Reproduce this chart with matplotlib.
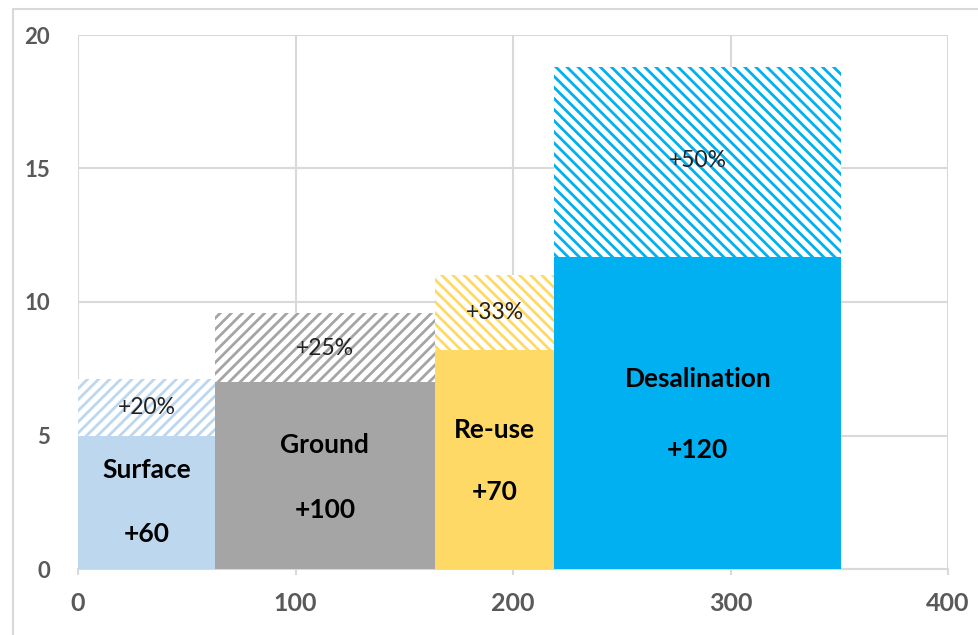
import numpy as np
import matplotlib
matplotlib.use("Agg")
import matplotlib.pyplot as plt
from matplotlib.patches import Rectangle

# data
sources = ["Surface", "Ground", "Re-use", "Desalination"]
edges = [0, 63, 164, 219, 351]
base = [5.0, 7.0, 8.2, 11.7]
top = [7.1, 9.6, 11.0, 18.8]
volumes = ["+60", "+100", "+70", "+120"]
increases = ["+20%", "+25%", "+33%", "+50%"]
colors = ["#bdd7ee", "#a5a5a5", "#ffd966", "#00b0f0"]
hatches = ["///", "///", "\\\\\\", "\\\\\\"]

# label heights (data units)
name_y = [3.7, 4.65, 5.2, 7.1]
vol_y = [1.3, 2.2, 2.9, 4.45]
pct_y = [6.05, 8.25, 9.6, 15.3]

plt.rcParams["font.family"] = ["Lato", "DejaVu Sans"]
plt.rcParams["hatch.linewidth"] = 2.0

fig = plt.figure(figsize=(9.79, 6.35), dpi=100)
ax = fig.add_axes([78 / 979, 66 / 635, 870 / 979, 534 / 635])

lefts = np.array(edges[:-1])
widths = np.diff(edges)
base = np.array(base)
top = np.array(top)

ax.bar(lefts, base, width=widths, align="edge", color=colors, linewidth=0, zorder=3)
for i in range(len(sources)):
    ax.bar(lefts[i], top[i] - base[i], width=widths[i], bottom=base[i], align="edge",
           color="white", edgecolor=colors[i], hatch=hatches[i], linewidth=0, zorder=3)
    cx = lefts[i] + widths[i] / 2
    ax.text(cx, name_y[i], sources[i], ha="center", va="center", fontsize=19,
            fontweight="bold", color="black", zorder=4)
    ax.text(cx, vol_y[i], volumes[i], ha="center", va="center", fontsize=19,
            fontweight="bold", color="black", zorder=4)
    ax.text(cx, pct_y[i], increases[i], ha="center", va="center", fontsize=16.5,
            color="#222222", zorder=4)

ax.set_xlim(0, 400)
ax.set_ylim(0, 20)
ax.set_xticks([0, 100, 200, 300, 400])
ax.set_yticks([0, 5, 10, 15, 20])
ax.grid(True, color="#d9d9d9", linewidth=1.5, zorder=0)
ax.set_axisbelow(True)
for s in ["top", "right", "left"]:
    ax.spines[s].set_visible(False)
ax.spines["bottom"].set_color("#d9d9d9")
ax.spines["bottom"].set_linewidth(1.5)
ax.tick_params(axis="x", length=4.5, width=1.5, color="#d9d9d9", pad=12,
               labelsize=18, labelcolor="#595959")
ax.tick_params(axis="y", length=0, pad=20, labelsize=16, labelcolor="#595959")
for lab in ax.get_xticklabels() + ax.get_yticklabels():
    lab.set_fontweight("bold")

# outer frame of the picture
fig.patches.append(Rectangle((13 / 979, -0.1), 1.1, (635 - 9) / 635 + 0.1,
                             transform=fig.transFigure, fill=False,
                             edgecolor="#d9d9d9", linewidth=1.5))

fig.savefig("out.png", dpi=100)
